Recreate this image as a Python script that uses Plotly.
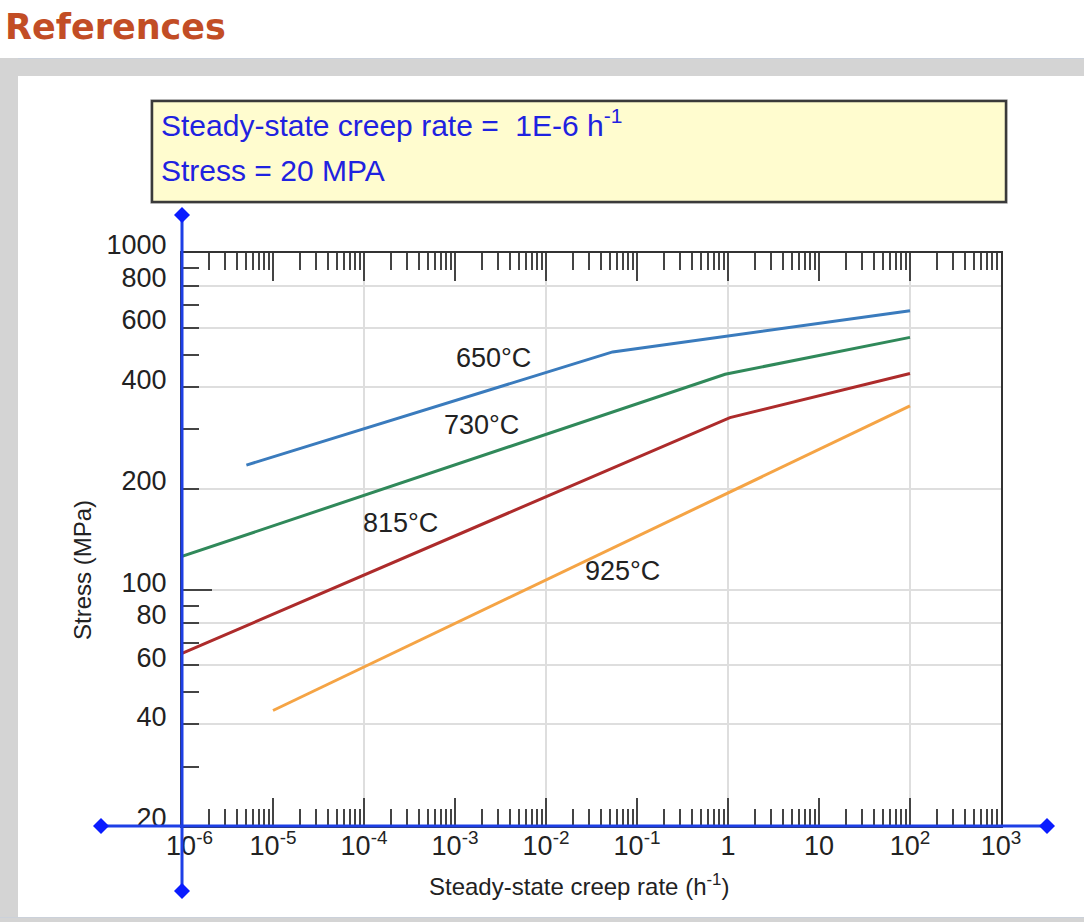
import math
import plotly.graph_objects as go

# ---------------- data ----------------
rate_650 = [5.1e-6, 0.054, 100]
stress_650 = [235, 509, 674]
rate_730 = [1e-6, 0.93, 100]
stress_730 = [126, 437, 562]
rate_815 = [1e-6, 1.05, 100]
stress_815 = [65, 325, 439]
rate_925 = [1e-5, 100]
stress_925 = [44, 352]

series_names = ["650°C", "730°C", "815°C", "925°C"]

x_tickvals = [1e-6, 1e-5, 1e-4, 1e-3, 1e-2, 1e-1, 1, 10, 100, 1000]
x_ticktext = ["\u00a0\u00a010<sup>-6</sup>", "10<sup>-5</sup>", "10<sup>-4</sup>", "10<sup>-3</sup>",
              "10<sup>-2</sup>", "10<sup>-1</sup>", "1", "10", "10<sup>2</sup>", "10<sup>3</sup>"]
x_gridvals = [1e-4, 1e-2, 1, 100]
y_tickvals = [20, 40, 60, 80, 100, 200, 400, 600, 800, 1000]
y_ticktext = ["20", "40", "60", "80", "100", "200", "400", "600", "800", "1000"]
y_minorvals = [30, 50, 70, 90, 300, 500, 700, 900]
y_majorvals = [100, 1000]

box_line1 = "Steady-state creep rate =\u00a0\u00a01E-6 h<sup>-1</sup>"
box_line2 = "Stress = 20 MPA"
x_title = "Steady-state creep rate (h<sup>-1</sup>)"
y_title = "Stress (MPa)"
page_title = "References"

# ---------------- layout geometry ----------------
W, H = 1084, 922
L, R, T, B = 182, 1001, 253, 826
PW, PH = R - L, B - T


def fx(px):
    return (px - L) / PW


def fy(py):
    return (B - py) / PH


FONT = "Liberation Sans, Arial, Helvetica, sans-serif"
colors = ["#3a7bbd", "#30895a", "#ad2b2b", "#f5a445"]

fig = go.Figure()
for xs, ys, c, n in [(rate_650, stress_650, colors[0], series_names[0]),
                     (rate_730, stress_730, colors[1], series_names[1]),
                     (rate_815, stress_815, colors[2], series_names[2]),
                     (rate_925, stress_925, colors[3], series_names[3])]:
    fig.add_trace(go.Scatter(x=xs, y=ys, mode="lines", name=n,
                             line=dict(color=c, width=3), showlegend=False,
                             hoverinfo="skip"))

# invisible trace on overlay axes
fig.add_trace(go.Scatter(x=[1e-3], y=[100], xaxis="x2", yaxis="y2", mode="markers",
                         marker=dict(opacity=0), showlegend=False, hoverinfo="skip"))

minor_x = [m * 10 ** e for e in range(-6, 3) for m in range(2, 10)]

fig.update_layout(
    width=W, height=H,
    margin=dict(l=L, r=W - R, t=T, b=H - B, pad=0),
    paper_bgcolor="white", plot_bgcolor="white",
    font=dict(family=FONT, color="#222"),
    xaxis=dict(type="log", range=[-6, 3], tickmode="array", tickvals=x_tickvals,
               ticktext=x_ticktext, ticks="inside", ticklen=28, tickwidth=2,
               tickcolor="#444", showgrid=False, zeroline=False,
               showline=True, linecolor="#333", linewidth=2, mirror="ticks",
               tickfont=dict(size=27, color="#222", family=FONT),
               ticklabelstandoff=-5,
               minor=dict(tickmode="array", tickvals=minor_x, ticks="inside",
                          ticklen=17, tickwidth=2, tickcolor="#444", showgrid=False),
               automargin=False, fixedrange=True),
    xaxis2=dict(type="log", range=[-6, 3], overlaying="x", anchor="y", side="bottom",
                tickmode="array", tickvals=x_gridvals, ticks="", showticklabels=False,
                showgrid=True, gridcolor="#dedede", gridwidth=2, zeroline=False,
                showline=False, automargin=False),
    yaxis=dict(type="log", range=[math.log10(20), 3], tickmode="array",
               tickvals=y_tickvals, ticktext=y_ticktext, ticks="inside", ticklen=17,
               tickwidth=2, tickcolor="#444", showgrid=True, gridcolor="#dedede",
               gridwidth=2, zeroline=False, showline=True, linecolor="#333",
               linewidth=2, mirror=True,
               tickfont=dict(size=27, color="#222", family=FONT),
               ticklabelstandoff=8, ticklabelshift=-8,
               minor=dict(tickmode="array", tickvals=y_minorvals, ticks="inside",
                          ticklen=17, tickwidth=2, tickcolor="#444", showgrid=False),
               automargin=False, fixedrange=True),
    yaxis2=dict(type="log", range=[math.log10(20), 3], overlaying="y", anchor="x",
                side="left", tickmode="array", tickvals=y_majorvals, ticks="inside",
                ticklen=30, tickwidth=2, tickcolor="#444", showticklabels=False,
                showgrid=False, zeroline=False, showline=False, automargin=False),
)

shapes = []
# page background pieces
shapes.append(dict(type="rect", xref="paper", yref="paper", x0=fx(0), x1=fx(W),
                   y0=fy(58), y1=fy(76), fillcolor="#d4d4d4", line=dict(width=0), layer="below"))
shapes.append(dict(type="line", xref="paper", yref="paper", x0=fx(0), x1=fx(W),
                   y0=fy(58.5), y1=fy(58.5), line=dict(color="#cbd1da", width=1), layer="below"))
shapes.append(dict(type="rect", xref="paper", yref="paper", x0=fx(0), x1=fx(18),
                   y0=fy(58), y1=fy(H), fillcolor="#d4d4d4", line=dict(width=0), layer="below"))
shapes.append(dict(type="rect", xref="paper", yref="paper", x0=fx(0), x1=fx(W),
                   y0=fy(917), y1=fy(H), fillcolor="#d4d4d4", line=dict(width=0), layer="below"))
shapes.append(dict(type="line", xref="paper", yref="paper", x0=fx(0), x1=fx(W),
                   y0=fy(917.5), y1=fy(917.5), line=dict(color="#cbd1da", width=1), layer="below"))
# yellow info box
shapes.append(dict(type="rect", xref="paper", yref="paper", x0=fx(150), x1=fx(1008),
                   y0=fy(99), y1=fy(204), fillcolor="#9a9a9a", line=dict(width=0), layer="above",
                   opacity=0.35))
shapes.append(dict(type="rect", xref="paper", yref="paper", x0=fx(152), x1=fx(1006),
                   y0=fy(101), y1=fy(202), fillcolor="#fffccf",
                   line=dict(color="#3a3a3a", width=2.5), layer="above"))
# blue axes
BLUE = "#1d3fe6"
shapes.append(dict(type="line", xref="paper", yref="paper", x0=fx(182), x1=fx(182),
                   y0=fy(215), y1=fy(891), line=dict(color=BLUE, width=3), layer="above"))
shapes.append(dict(type="line", xref="paper", yref="paper", x0=fx(101), x1=fx(1047),
                   y0=fy(826), y1=fy(826), line=dict(color=BLUE, width=3), layer="above"))
diamond = "M0,8 L8,0 L0,-8 L-8,0 Z"
for px, py in [(182, 215), (182, 891), (101, 826), (1047, 826)]:
    shapes.append(dict(type="path", xref="paper", yref="paper", xsizemode="pixel",
                       ysizemode="pixel", xanchor=fx(px), yanchor=fy(py), path=diamond,
                       fillcolor="#0a1cff", line=dict(width=0), layer="above"))
fig.update_layout(shapes=shapes)

ann = []
ann.append(dict(text="<b>" + page_title + "</b>", xref="paper", yref="paper", x=fx(3),
                y=fy(27), xanchor="left", yanchor="middle", showarrow=False,
                font=dict(family="DejaVu Sans, Verdana, sans-serif", size=35, color="#c24d25")))
ann.append(dict(text=box_line1, xref="paper", yref="paper", x=fx(159), y=fy(123),
                xanchor="left", yanchor="middle", showarrow=False,
                font=dict(family=FONT, size=30, color="#1f22e0")))
ann.append(dict(text=box_line2, xref="paper", yref="paper", x=fx(159), y=fy(170),
                xanchor="left", yanchor="middle", showarrow=False,
                font=dict(family=FONT, size=30, color="#1f22e0")))
label_pos = [(493, 358), (481, 425), (400, 523), (622, 571)]
for name, (px, py) in zip(series_names, label_pos):
    ann.append(dict(text=name, xref="paper", yref="paper", x=fx(px), y=fy(py),
                    xanchor="center", yanchor="middle", showarrow=False,
                    font=dict(family=FONT, size=27, color="#222")))
ann.append(dict(text=x_title, xref="paper", yref="paper", x=fx(579), y=fy(885),
                xanchor="center", yanchor="middle", showarrow=False,
                font=dict(family=FONT, size=24, color="#222")))
ann.append(dict(text=y_title, xref="paper", yref="paper", x=fx(82), y=fy(570),
                xanchor="center", yanchor="middle", showarrow=False, textangle=-90,
                font=dict(family=FONT, size=24, color="#222")))
fig.update_layout(annotations=ann)

fig.write_html("out.html")
